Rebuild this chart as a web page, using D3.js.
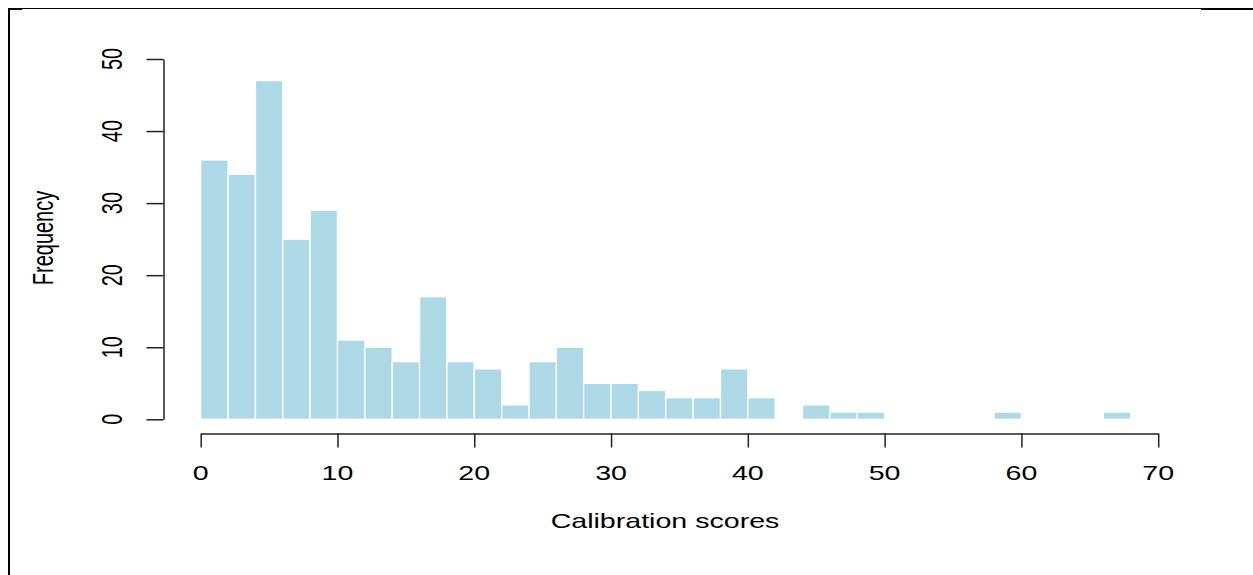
<!DOCTYPE html>
<html>
<head>
<meta charset="utf-8">
<script src="https://cdn.jsdelivr.net/npm/d3@7"></script>
<style>
  html, body { margin: 0; padding: 0; background: #fff; }
  svg { display: block; }
  text { font-family: "Liberation Sans", Arial, Helvetica, sans-serif; fill: #000; }
</style>
</head>
<body>
<svg id="chart" width="1253" height="575"></svg>
<script>
// Histogram of calibration scores, bins of width 2
const binStarts = [0, 2, 4, 6, 8, 10, 12, 14, 16, 18, 20, 22, 24, 26, 28, 30, 32, 34,
                   36, 38, 40, 42, 44, 46, 48, 50, 52, 54, 56, 58, 60, 62, 64, 66];
const binWidth = 2;
const counts = [36, 34, 47, 25, 29, 11, 10, 8, 17, 8, 7, 2, 8, 10, 5, 5, 4, 3,
                3, 7, 3, 0, 2, 1, 1, 0, 0, 0, 0, 1, 0, 0, 0, 1];
const xTicks = [0, 10, 20, 30, 40, 50, 60, 70];
const yTicks = [0, 10, 20, 30, 40, 50];
const xTitle = "Calibration scores";
const yTitle = "Frequency";

const svg = d3.select("#chart");
const stretch = 1.43;     // horizontal stretch of the glyphs
const fontSize = 20;
const axisColor = "#222";
const axisWidth = 1.5;

const x = d3.scaleLinear().domain([0, 70]).range([200.7, 1158.2]);
const y = d3.scaleLinear().domain([0, 50]).range([419.3, 59]);

// page frame
const frame = svg.append("g").attr("stroke", "#000").attr("fill", "none");
frame.append("line").attr("x1", 8).attr("x2", 1201).attr("y1", 8.5).attr("y2", 8.5).attr("stroke-width", 1);
frame.append("line").attr("x1", 8).attr("x2", 22).attr("y1", 9).attr("y2", 9).attr("stroke-width", 2);
frame.append("line").attr("x1", 1201).attr("x2", 1253).attr("y1", 9).attr("y2", 9).attr("stroke-width", 2);
frame.append("line").attr("x1", 9).attr("x2", 9).attr("y1", 8).attr("y2", 575).attr("stroke-width", 2);

// bars
const bins = binStarts.map((s, i) => ({ x0: s, x1: s + binWidth, n: counts[i] }));
svg.append("g")
  .selectAll("rect")
  .data(bins.filter(d => d.n > 0))
  .join("rect")
  .attr("x", d => x(d.x0))
  .attr("width", d => x(d.x1) - x(d.x0))
  .attr("y", d => y(d.n))
  .attr("height", d => y(0) - y(d.n))
  .attr("fill", "#ADD8E6")
  .attr("stroke", "#ffffff")
  .attr("stroke-width", 1.3);

// x axis
const xAxisG = svg.append("g").attr("transform", "translate(0,433.5)");
xAxisG.call(d3.axisBottom(x).tickValues(xTicks).tickSize(14).tickSizeOuter(0).tickFormat(() => ""));
xAxisG.select(".domain").attr("stroke", axisColor).attr("stroke-width", axisWidth);
xAxisG.selectAll(".tick line").attr("stroke", axisColor).attr("stroke-width", axisWidth);
svg.append("g")
  .selectAll("text")
  .data(xTicks)
  .join("text")
  .attr("transform", d => `translate(${x(d)},480) scale(${stretch},1)`)
  .attr("text-anchor", "middle")
  .attr("font-size", fontSize)
  .text(d => d);

// y axis
const yAxisG = svg.append("g").attr("transform", "translate(163.5,0)");
yAxisG.call(d3.axisLeft(y).tickValues(yTicks).tickSize(17).tickSizeOuter(0).tickFormat(() => ""));
yAxisG.select(".domain").attr("stroke", axisColor).attr("stroke-width", axisWidth);
yAxisG.selectAll(".tick line").attr("stroke", axisColor).attr("stroke-width", axisWidth);
svg.append("g")
  .selectAll("text")
  .data(yTicks)
  .join("text")
  .attr("transform", d => `translate(122,${y(d)}) scale(${stretch},1) rotate(-90)`)
  .attr("text-anchor", "middle")
  .attr("font-size", fontSize)
  .text(d => d);

// axis titles
svg.append("text")
  .attr("transform", `translate(665,528) scale(${stretch},1)`)
  .attr("text-anchor", "middle")
  .attr("font-size", fontSize)
  .text(xTitle);
svg.append("text")
  .attr("transform", `translate(53,238) scale(${stretch},1) rotate(-90)`)
  .attr("text-anchor", "middle")
  .attr("font-size", fontSize)
  .text(yTitle);
</script>
</body>
</html>
